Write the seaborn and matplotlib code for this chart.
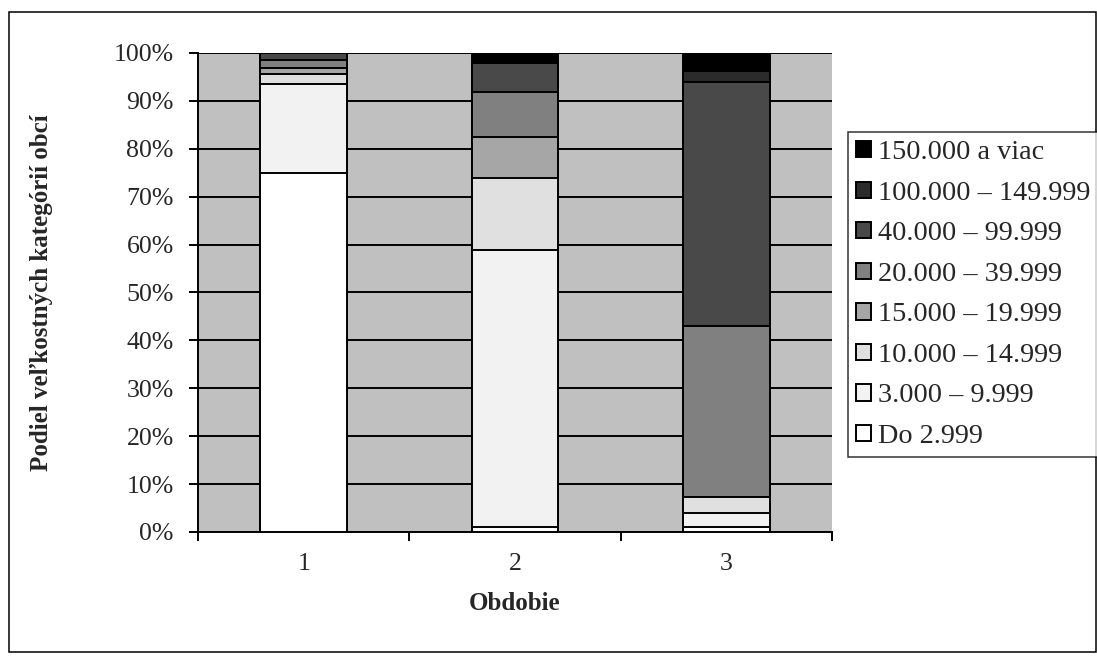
import matplotlib
matplotlib.use('Agg')
import matplotlib.pyplot as plt
import seaborn as sns
import pandas as pd
from matplotlib.patches import Rectangle
from matplotlib.ticker import FixedLocator, PercentFormatter

obdobia = ['1', '2', '3']
kategorie = ['Do 2.999', '3.000 – 9.999', '10.000 – 14.999', '15.000 – 19.999',
             '20.000 – 39.999', '40.000 – 99.999', '100.000 – 149.999', '150.000 a viac']
# podiely v % pre obdobie 1, 2, 3 (odčítané z grafu)
do_2999 = [74.9, 1.0, 1.1]
od_3000 = [18.6, 57.8, 2.9]
od_10000 = [2.2, 15.0, 3.4]
od_15000 = [1.2, 8.6, 0.0]
od_20000 = [1.6, 9.4, 35.7]
od_40000 = [1.5, 6.2, 50.8]
od_100000 = [0.0, 0.0, 2.3]
od_150000 = [0.0, 2.0, 3.8]

farby = ['#ffffff', '#f2f2f2', '#e0e0e0', '#a6a6a6', '#808080', '#494949', '#2b2b2b', '#000000']

df = pd.DataFrame({'Obdobie': obdobia})
for kat, hodnoty in zip(kategorie, [do_2999, od_3000, od_10000, od_15000,
                                    od_20000, od_40000, od_100000, od_150000]):
    df[kat] = hodnoty
kum = df[kategorie].cumsum(axis=1)
kum['Obdobie'] = obdobia

sns.set_style('white')
plt.rcParams['font.family'] = ['Liberation Serif', 'DejaVu Serif']

fig = plt.figure(figsize=(10.97, 6.62), dpi=100)
ax = fig.add_axes([0.1805, 0.1964, 0.578, 0.7236])
ax.set_facecolor('#c0c0c0')

# vrstvenie: najvyššia kumulatívna hodnota ako prvá
for kat, farba in zip(kategorie[::-1], farby[::-1]):
    sns.barplot(data=kum, x='Obdobie', y=kat, color=farba, saturation=1, width=0.41,
                edgecolor='black', linewidth=1.4, label=kat, ax=ax, zorder=3)

handles, labels = ax.get_legend_handles_labels()
if ax.get_legend() is not None:
    ax.get_legend().remove()

ax.set_ylim(0, 100)
ax.set_xlim(-0.5, 2.5)
ax.set_yticks(range(0, 101, 10))
ax.yaxis.set_major_formatter(PercentFormatter(decimals=0))
ax.grid(axis='y', color='black', linewidth=1.4)
ax.set_axisbelow(True)
for s in ['top', 'right']:
    ax.spines[s].set_visible(False)
for s in ['left', 'bottom']:
    ax.spines[s].set_color('black')
    ax.spines[s].set_linewidth(1.4)

ax.tick_params(axis='y', which='major', direction='out', length=6.5, width=1.4, color='black',
               labelsize=18.6, pad=11, left=True)
ax.tick_params(axis='x', which='major', length=0, labelsize=18.6, pad=15)
ax.xaxis.set_minor_locator(FixedLocator([-0.5, 0.5, 1.5, 2.5]))
ax.tick_params(axis='x', which='minor', direction='out', length=6.5, width=1.4, color='black', bottom=True)

ax.set_xlabel('Obdobie', fontsize=18, fontweight='bold')
ax.set_ylabel('Podiel veľkostných kategórií obcí', fontsize=18, fontweight='bold')
ax.xaxis.set_label_coords(0.5, -0.125)
ax.yaxis.set_label_coords(-0.228, 0.5)

leg = fig.legend(handles, labels, loc='upper left', bbox_to_anchor=(848 / 1097, 1 - 132 / 662),
                 fontsize=20.3, frameon=True, fancybox=False, handlelength=0.5, handleheight=0.5,
                 handletextpad=0.25, labelspacing=0.55, borderpad=0.3, borderaxespad=0)
leg.get_frame().set_edgecolor('black')
leg.get_frame().set_linewidth(1.1)

fig.patches.append(Rectangle((9 / 1097, 1 - 652 / 662), 1087 / 1097, 640 / 662,
                             transform=fig.transFigure, fill=False, edgecolor='black', linewidth=1.1))

plt.savefig('out.png', dpi=100)
